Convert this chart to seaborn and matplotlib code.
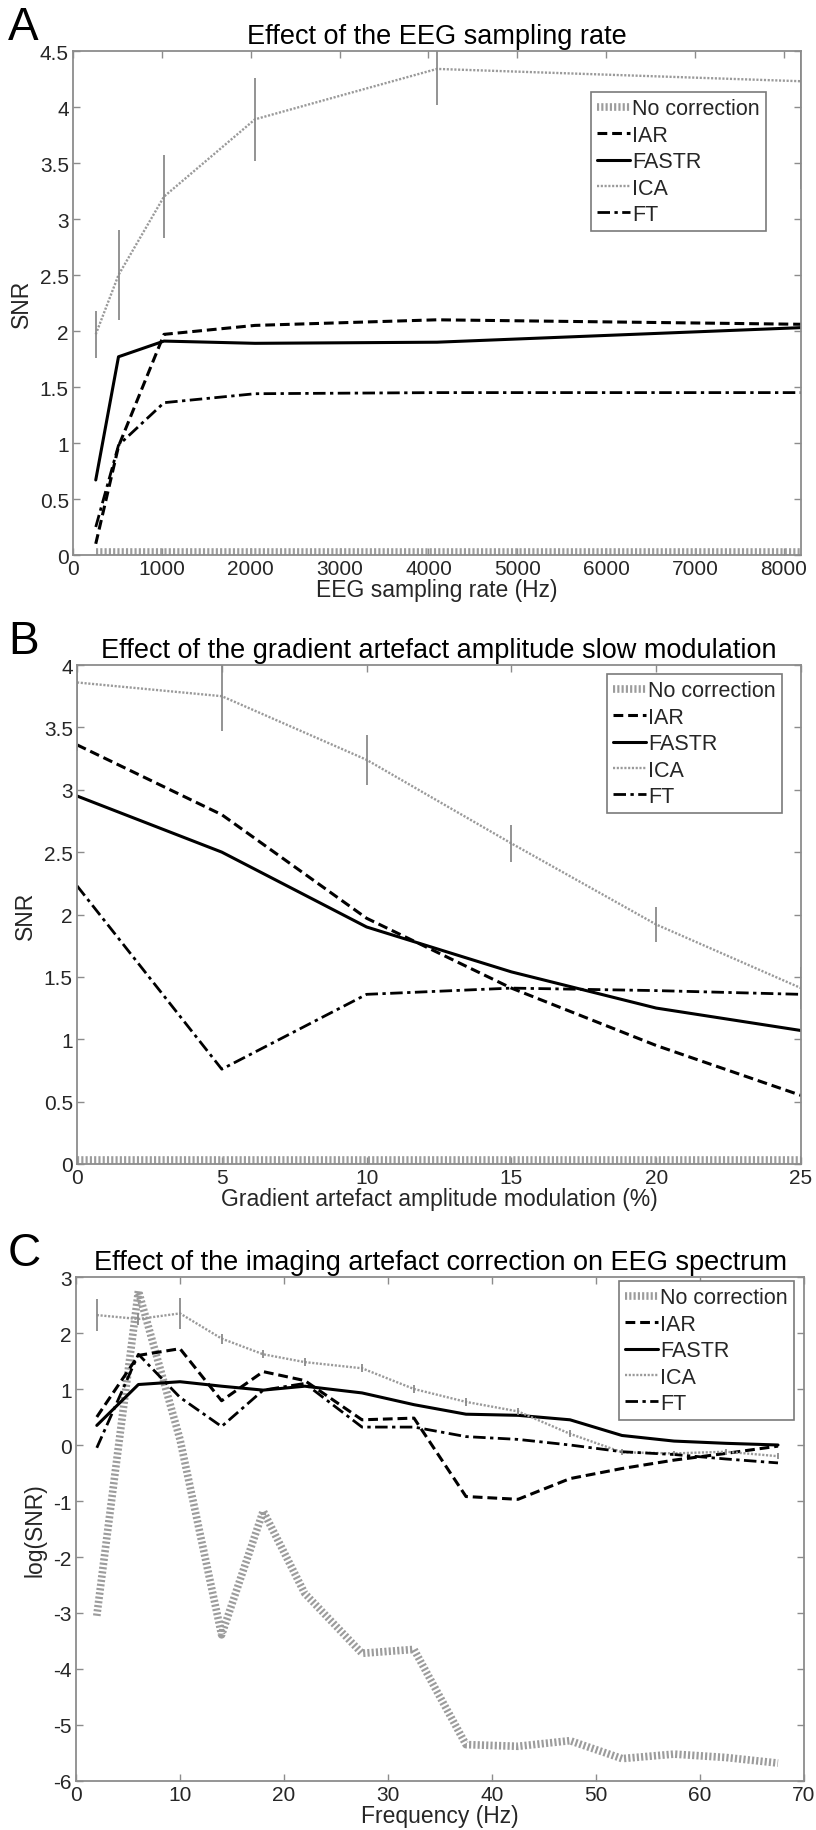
import matplotlib
matplotlib.use("Agg")
import matplotlib.pyplot as plt
import seaborn as sns
from matplotlib.ticker import FormatStrFormatter, MultipleLocator

sns.set_theme(style="ticks")
plt.rcParams['font.family'] = ['Liberation Sans', 'DejaVu Sans']

methods = ["No correction", "IAR", "FASTR", "ICA", "FT"]

# A: effect of sampling rate
rate_hz = [256, 512, 1024, 2048, 4096, 8192]
rate_none = [0.03, 0.03, 0.03, 0.03, 0.03, 0.03]
rate_iar = [0.10, 0.97, 1.97, 2.05, 2.10, 2.06]
rate_fastr = [0.67, 1.77, 1.91, 1.89, 1.90, 2.03]
rate_ica = [1.97, 2.50, 3.20, 3.89, 4.34, 4.23]
rate_ica_err = [0.21, 0.40, 0.37, 0.37, 0.32, 0.96]
rate_ft = [0.25, 0.98, 1.36, 1.44, 1.45, 1.45]

# B: effect of slow amplitude modulation
mod_pct = [0, 5, 10, 15, 20, 25]
mod_none = [0.03, 0.03, 0.03, 0.03, 0.03, 0.03]
mod_iar = [3.36, 2.80, 1.97, 1.41, 0.95, 0.55]
mod_fastr = [2.95, 2.50, 1.90, 1.54, 1.25, 1.07]
mod_ica = [3.86, 3.75, 3.24, 2.57, 1.92, 1.41]
mod_ica_err = [0.55, 0.28, 0.20, 0.15, 0.14, 0.17]
mod_ft = [2.23, 0.76, 1.36, 1.41, 1.39, 1.36]

# C: effect on EEG spectrum
freq_hz = [2, 6, 10, 14, 18, 22, 27.5, 32.5, 37.5, 42.5, 47.5, 52.5, 57.5, 62.5, 67.5]
spec_none = [-3.05, 2.75, 0.10, -3.39, -1.18, -2.65, -3.72, -3.65, -5.35, -5.38, -5.28, -5.60, -5.52, -5.58, -5.68]
spec_iar = [0.50, 1.60, 1.72, 0.79, 1.31, 1.15, 0.45, 0.48, -0.92, -0.97, -0.60, -0.42, -0.27, -0.15, -0.02]
spec_fastr = [0.35, 1.08, 1.13, 1.05, 0.98, 1.05, 0.93, 0.72, 0.55, 0.53, 0.45, 0.17, 0.07, 0.03, 0.00]
spec_ica = [2.32, 2.25, 2.35, 1.90, 1.62, 1.48, 1.37, 1.00, 0.77, 0.60, 0.20, -0.13, -0.15, -0.12, -0.20]
spec_ica_err = [0.28, 0.10, 0.27, 0.09, 0.07, 0.07, 0.07, 0.07, 0.07, 0.06, 0.06, 0.05, 0.05, 0.05, 0.05]
spec_ft = [-0.05, 1.62, 0.85, 0.33, 0.98, 1.10, 0.32, 0.32, 0.15, 0.10, 0.00, -0.12, -0.17, -0.25, -0.32]

# line styles per method
styles = {
    "No correction": dict(color="#9c9c9c", lw=5.5, ls=(0, (0.28, 0.28))),
    "IAR": dict(color="black", lw=2.2, ls=(0, (3.2, 1.6))),
    "FASTR": dict(color="black", lw=2.2, ls="-"),
    "ICA": dict(color="#9a9a9a", lw=1.7, ls=(0, (0.9, 0.7))),
    "FT": dict(color="black", lw=2.0, ls=(0, (4.5, 1.6, 1.2, 1.6))),
}

W, H = 816, 1831
fig = plt.figure(figsize=(W / 100, H / 100), dpi=100)

spine_col = "#8c8c8c"
txt_col = "#262626"


def panel(box, letter, title, x, series, ica_err, xlim, ylim, xstep, ystep, xlabel, ylabel, leg_box):
    left, top, right, bottom = box
    ax = fig.add_axes([left / W, 1 - bottom / H, (right - left) / W, (bottom - top) / H])
    for name, y in zip(methods, series):
        st = styles[name]
        sns.lineplot(x=x, y=y, ax=ax, color=st["color"], linewidth=st["lw"],
                     linestyle=st["ls"], sort=False, errorbar=None, label=name)
    ax.errorbar(x, series[3], yerr=ica_err, fmt="none", ecolor="#8a8a8a",
                elinewidth=1.3, capsize=0, zorder=3)
    ax.set_xlim(*xlim)
    ax.set_ylim(*ylim)
    ax.xaxis.set_major_locator(MultipleLocator(xstep))
    ax.yaxis.set_major_locator(MultipleLocator(ystep))
    ax.yaxis.set_major_formatter(FormatStrFormatter("%g"))
    ax.xaxis.set_major_formatter(FormatStrFormatter("%g"))
    for s in ax.spines.values():
        s.set_visible(True)
        s.set_color(spine_col)
        s.set_linewidth(1.3)
    ax.tick_params(direction="in", length=5, width=1, color=spine_col, top=True, right=True,
                   labelsize=15, labelcolor=txt_col, pad=3)
    ax.set_xlabel(xlabel, fontsize=16.5, color=txt_col, labelpad=0)
    ax.set_ylabel(ylabel, fontsize=16.5, color=txt_col, labelpad=5)
    ax.set_title(title, fontsize=19.5, color="black", pad=6)
    fig.text(8 / W, 1 - (top - 24) / H, letter, fontsize=33, color="black", va="center", ha="left")
    lx0, ly0, lx1, ly1 = leg_box
    leg = ax.legend(loc="upper left", bbox_to_anchor=(lx0 / W, 1 - ly0 / H), bbox_transform=fig.transFigure,
                    fontsize=15.5, frameon=True, fancybox=False, framealpha=1, edgecolor="#7a7a7a",
                    handlelength=1.5, handletextpad=0.1, labelspacing=0.25, borderpad=0.3,
                    borderaxespad=0)
    leg.get_frame().set_linewidth(1.2)
    for t in leg.get_texts():
        t.set_color(txt_col)
    return ax


panel((73, 52, 801, 556), "A", "Effect of the EEG sampling rate", rate_hz,
      [rate_none, rate_iar, rate_fastr, rate_ica, rate_ft], rate_ica_err,
      (0, 8192), (0, 4.5), 1000, 0.5, "EEG sampling rate (Hz)", "SNR", (591, 93, 771, 238))

panel((77, 666, 801, 1165), "B", "Effect of the gradient artefact amplitude slow modulation", mod_pct,
      [mod_none, mod_iar, mod_fastr, mod_ica, mod_ft], mod_ica_err,
      (0, 25), (0, 4), 5, 0.5, "Gradient artefact amplitude modulation (%)", "SNR", (607, 675, 786, 819))

panel((76, 1278, 804, 1782), "C", "Effect of the imaging artefact correction on EEG spectrum", freq_hz,
      [spec_none, spec_iar, spec_fastr, spec_ica, spec_ft], spec_ica_err,
      (0, 70), (-6, 3), 10, 1, "Frequency (Hz)", "log(SNR)", (619, 1282, 800, 1425))

fig.savefig("out.png", dpi=100)
